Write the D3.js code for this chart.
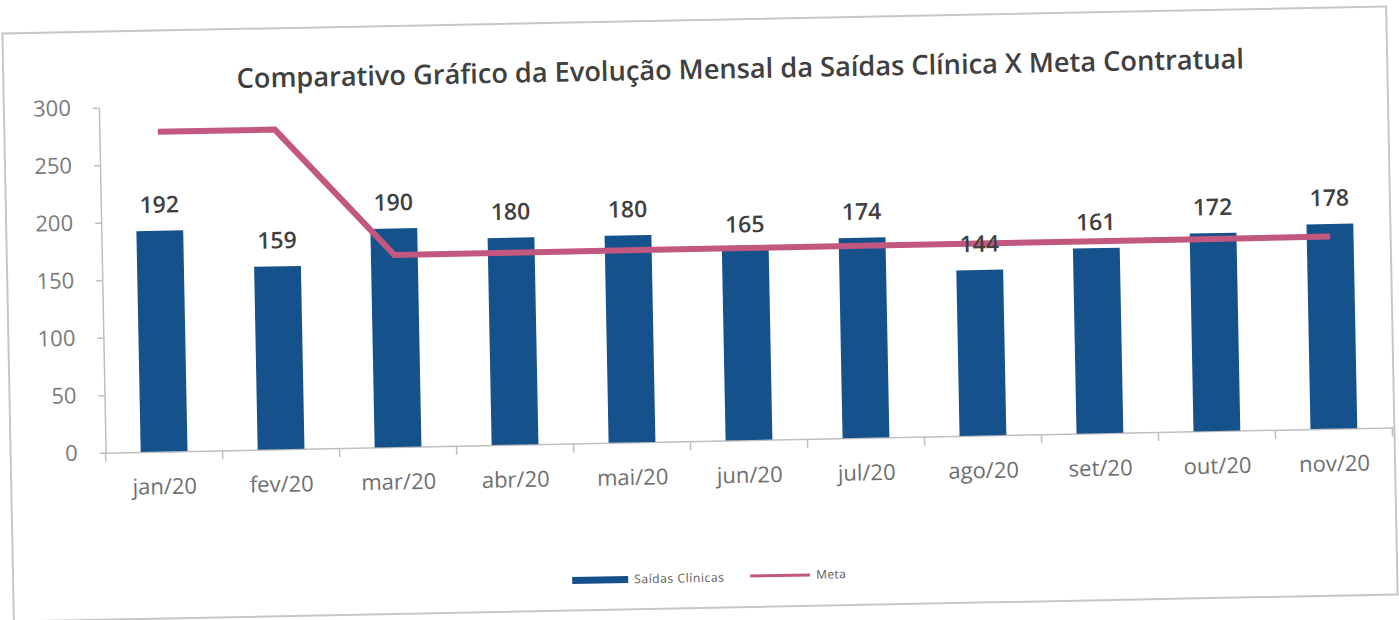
<!DOCTYPE html>
<html><head><meta charset="utf-8">
<script src="https://cdn.jsdelivr.net/npm/d3@7"></script>
<style>body{margin:0;background:#fff;} svg{display:block}</style>
</head><body>
<svg id="chart" width="1399" height="620"></svg>
<script>
const categories = ["jan/20","fev/20","mar/20","abr/20","mai/20","jun/20","jul/20","ago/20","set/20","out/20","nov/20"];
const saidasClinicas = [192,159,190,180,180,165,174,144,161,172,178];
const meta = [278,278,167,167,167,167,167,167,167,167,167];
const yTicks = [0,50,100,150,200,250,300];
const seriesNames = ["Saídas Clínicas","Meta"];
const titleText = "Comparativo Gráfico da Evolução Mensal da Saídas Clínica X Meta Contratual";

const barColor = "#15518a", lineColor = "#c2577f", axisColor = "#bfbfbf";
const font = "'Open Sans', 'Liberation Sans', sans-serif";

const svg = d3.select("#chart");
// the scanned chart is slightly tilted
const g = svg.append("g").attr("transform", "rotate(-1.12,700,313)");

// frame
g.append("rect").attr("x", 8).attr("y", 20).attr("width", 1384).attr("height", 588)
  .attr("fill", "#fff").attr("stroke", "#c6c6c6").attr("stroke-width", 2);

const pLeft = 103, pRight = 1390, pTop = 96, pBottom = 441;
const x = d3.scaleBand().domain(categories).range([pLeft, pRight]).padding(0);
const y = d3.scaleLinear().domain([0, 300]).range([pBottom, pTop]);
const barW = x.bandwidth() * 0.4;

// y axis
const yAxis = g.append("g").attr("transform", `translate(${pLeft},0)`)
  .call(d3.axisLeft(y).tickValues(yTicks).tickSize(6).tickPadding(22).tickSizeOuter(0));
yAxis.select(".domain").attr("stroke", axisColor).attr("stroke-width", 1.5);
yAxis.selectAll(".tick line").attr("stroke", axisColor).attr("stroke-width", 1.5);
yAxis.selectAll("text").attr("font-family", font).attr("font-size", 22).attr("fill", "#7a7a7a");

// x axis
const xAxis = g.append("g").attr("transform", `translate(0,${pBottom})`)
  .call(d3.axisBottom(x).tickSize(0).tickPadding(27).tickSizeOuter(0));
xAxis.select(".domain").attr("stroke", axisColor).attr("stroke-width", 1.5);
xAxis.selectAll("text").attr("font-family", font).attr("font-size", 22).attr("fill", "#6f6f6f");
const boundaries = categories.map(c => x(c)).concat([x(categories[categories.length-1]) + x.bandwidth()]);
xAxis.selectAll(".btick").data(boundaries).enter().append("line")
  .attr("x1", d => d).attr("x2", d => d).attr("y1", 0).attr("y2", 9)
  .attr("stroke", axisColor).attr("stroke-width", 1.5);

// bars
g.selectAll(".bar").data(saidasClinicas).enter().append("rect")
  .attr("x", (d, i) => x(categories[i]) + (x.bandwidth() - barW) / 2)
  .attr("y", d => y(d))
  .attr("width", barW)
  .attr("height", d => y(0) - y(d))
  .attr("fill", barColor);

// meta line
const line = d3.line().x((d, i) => x(categories[i]) + x.bandwidth() / 2).y(d => y(d));
g.append("path").datum(meta).attr("d", line)
  .attr("fill", "none").attr("stroke", lineColor).attr("stroke-width", 6)
  .attr("stroke-linejoin", "miter");

// data labels
g.selectAll(".lbl").data(saidasClinicas).enter().append("text")
  .attr("x", (d, i) => x(categories[i]) + x.bandwidth() / 2)
  .attr("y", d => y(d) - 18)
  .attr("text-anchor", "middle")
  .attr("font-family", font).attr("font-size", 23).attr("font-weight", 600)
  .attr("fill", "#404040")
  .text(d => d);

// title
const t = g.append("text").attr("x", 745).attr("y", 79).attr("text-anchor", "middle")
  .attr("font-family", font).attr("font-weight", 600).attr("font-size", 24)
  .attr("fill", "#404040").text(titleText);
const w = t.node().getComputedTextLength();
t.attr("font-size", 24 * 1008 / w);

// legend
const lg = g.append("g").attr("transform", "translate(0,578)");
lg.append("rect").attr("x", 567).attr("y", -3.5).attr("width", 56).attr("height", 7).attr("fill", barColor);
lg.append("text").attr("x", 629).attr("y", 4).attr("font-family", font).attr("font-size", 12)
  .attr("letter-spacing", 0.6).attr("fill", "#595959").text(seriesNames[0]);
lg.append("line").attr("x1", 745).attr("x2", 805).attr("y1", -1).attr("y2", -1)
  .attr("stroke", lineColor).attr("stroke-width", 3);
lg.append("text").attr("x", 811).attr("y", 3).attr("font-family", font).attr("font-size", 12)
  .attr("letter-spacing", 0.4).attr("fill", "#595959").text(seriesNames[1]);
</script>
</body></html>
